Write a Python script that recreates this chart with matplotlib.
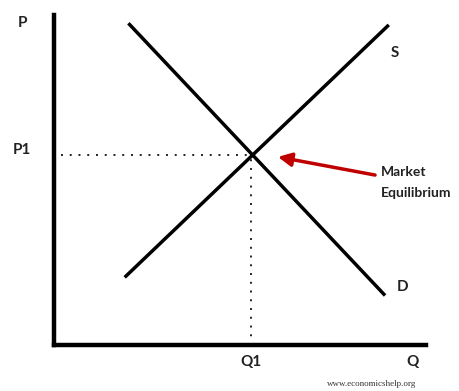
import matplotlib.pyplot as plt

# supply / demand diagram (schematic units, 0-10 on both axes)
demand_q = [2.0, 8.9]
demand_p = [9.75, 1.5]
supply_q = [1.9, 9.0]
supply_p = [2.05, 9.7]
q1 = 5.3
p1 = 5.75

plt.rcParams['font.family'] = ['Lato', 'DejaVu Sans']

fig = plt.figure(figsize=(4.6, 3.91), dpi=100)
ax = fig.add_axes([54 / 460, 46 / 391, 372 / 460, 330 / 391])
ax.set_xlim(0, 10)
ax.set_ylim(0, 10)

for side in ['top', 'right']:
    ax.spines[side].set_visible(False)
for side in ['left', 'bottom']:
    ax.spines[side].set_linewidth(3.2)
ax.set_xticks([])
ax.set_yticks([])

ax.plot(demand_q, demand_p, color='black', lw=2.5, solid_capstyle='butt')
ax.plot(supply_q, supply_p, color='black', lw=2.5, solid_capstyle='butt')

# dotted guides to P1 and Q1
ax.plot([0.2, q1], [p1, p1], color='#222222', lw=1.4, ls=(0, (1, 3.5)))
ax.plot([q1, q1], [0, p1], color='#222222', lw=1.4, ls=(0, (1, 3.5)))

lab = dict(fontsize=11, fontweight='bold', color='#222222', clip_on=False)
ax.text(-0.86, 9.76, 'P', ha='center', va='center', **lab)
ax.text(-0.86, 5.9, 'P1', ha='center', va='center', **lab)
ax.text(q1, -0.52, 'Q1', ha='center', va='center', **lab)
ax.text(9.65, -0.52, 'Q', ha='center', va='center', **lab)
ax.text(9.17, 8.85, 'S', ha='center', va='center', **lab)
ax.text(9.38, 1.76, 'D', ha='center', va='center', **lab)

ax.annotate('', xy=(6.02, 5.7), xytext=(8.63, 5.15),
            arrowprops=dict(arrowstyle='-|>,head_length=0.8,head_width=0.4',
                            color='#c00000', lw=2.5, shrinkA=0, shrinkB=0))
ax.text(8.79, 5.24, 'Market', ha='left', va='center', fontsize=10,
        fontweight='bold', color='#222222', clip_on=False)
ax.text(8.79, 4.6, 'Equilibrium', ha='left', va='center', fontsize=10,
        fontweight='bold', color='#222222', clip_on=False)

fig.text(0.807, 0.018, 'www.economicshelp.org', ha='center', va='center',
         fontsize=6.5, family='Liberation Serif', color='#333333')

fig.savefig('out.png', dpi=100)
